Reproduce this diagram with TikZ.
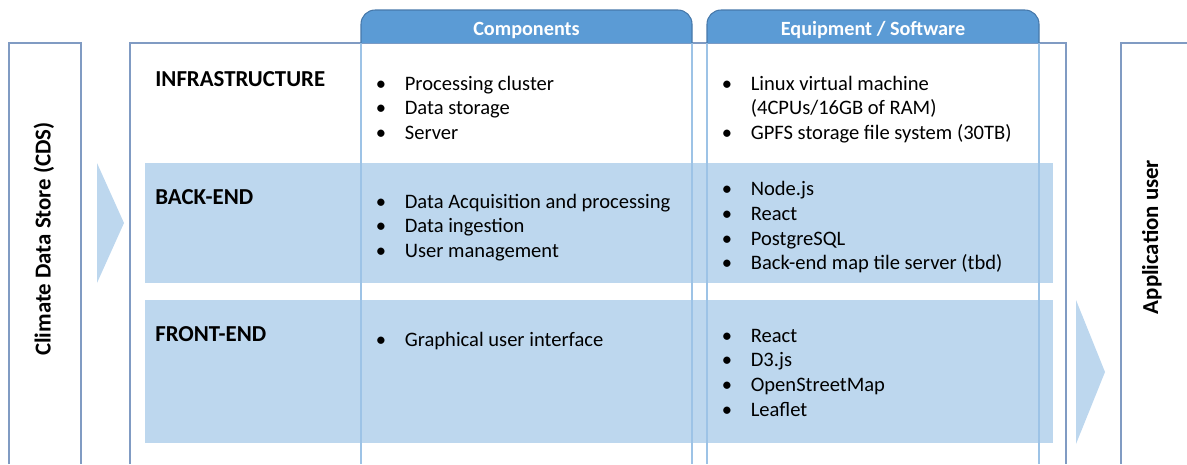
\documentclass[tikz,border=0pt]{standalone}
\usepackage{fontspec}
\setmainfont{Carlito}
\definecolor{framecol}{RGB}{128,155,195}
\definecolor{bandcol}{RGB}{189,215,238}
\definecolor{colline}{RGB}{157,195,230}
\definecolor{tabfill}{RGB}{91,155,213}
\definecolor{tabline}{RGB}{70,120,170}
\newcommand{\blt}{\makebox[0.58cm][l]{\textbullet}}
\begin{document}
\begin{tikzpicture}[x=0.02cm,y=-0.02cm,
    edge/.style={draw=framecol,line width=0.6pt},
    band/.style={fill=bandcol},
    colsep/.style={draw=colline,line width=0.6pt},
    tabhead/.style={fill=tabfill,draw=tabline,line width=0.6pt,rounded corners=8pt},
    headtxt/.style={text=white,font=\fontsize{11.5}{14}\selectfont\bfseries,anchor=base,inner sep=0},
    rowtxt/.style={font=\fontsize{13}{15}\selectfont\bfseries,anchor=base west,inner sep=0},
    sidetxt/.style={font=\fontsize{13}{15}\selectfont\bfseries,rotate=90,inner sep=0},
    item/.style={font=\fontsize{11.7}{14}\selectfont,anchor=base west,inner sep=0}]
\useasboundingbox (0,0) rectangle (1187,464);
% rows and arrows
\path[band] (145,163) rectangle (1053,283);
\path[band] (145,300) rectangle (1053,443);
\path[band] (97,163)--(124,223)--(97,283)--cycle;
\path[band] (1076,300)--(1105,372)--(1076,444)--cycle;
% frames
\draw[edge] (9,464)--(9,43)--(81,43)--(81,464);
\draw[edge] (130,464)--(130,43)--(1066,43)--(1066,464);
\draw[edge] (1187,43)--(1121,43)--(1121,464);
\foreach \x in {361,692,707,1039}
  \draw[colsep] (\x,43)--(\x,464);
\path[tabhead] (361,43)--(361,10)--(692,10)--(692,43);
\path[tabhead] (707,43)--(707,10)--(1039,10)--(1039,43);
\node[headtxt] (comphd) at (526.5,35.5) {Components};
\node[headtxt] (equiphd) at (873,35.5) {Equipment / Software};
\node[sidetxt] (cds) at (44,239) {Climate Data Store (CDS)};
\node[sidetxt] (appuser) at (1152,237) {Application user};
\node[rowtxt] (infra) at (155,86) {INFRASTRUCTURE};
\node[rowtxt] (back) at (155,204) {BACK-END};
\node[rowtxt] (front) at (155,341.5) {FRONT-END};
% lists
\foreach \t [count=\i from 0] in {Processing cluster,Data storage,Server}
  \node[item] (ic\i) at (375.5,{90+24.8*\i}) {\blt\t};
\foreach \t [count=\i from 0] in {{\blt Linux virtual machine},{\hspace*{0.58cm}(4CPUs/16GB of RAM)},{\blt GPFS storage file system (30TB)}}
  \node[item] (ie\i) at (721.5,{90+24.8*\i}) {\t};
\foreach \t [count=\i from 0] in {Data Acquisition and processing,Data ingestion,User management}
  \node[item] (bc\i) at (375.5,{208+24.8*\i}) {\blt\t};
\foreach \t [count=\i from 0] in {Node.js,React,PostgreSQL,Back-end map tile server (tbd)}
  \node[item] (be\i) at (721.5,{195.5+24.8*\i}) {\blt\t};
\node[item] (fc0) at (375.5,346) {\blt Graphical user interface};
\foreach \t [count=\i from 0] in {React,D3.js,OpenStreetMap,Leaflet}
  \node[item] (fe\i) at (721.5,{342+24.8*\i}) {\blt\t};
\end{tikzpicture}
\end{document}
